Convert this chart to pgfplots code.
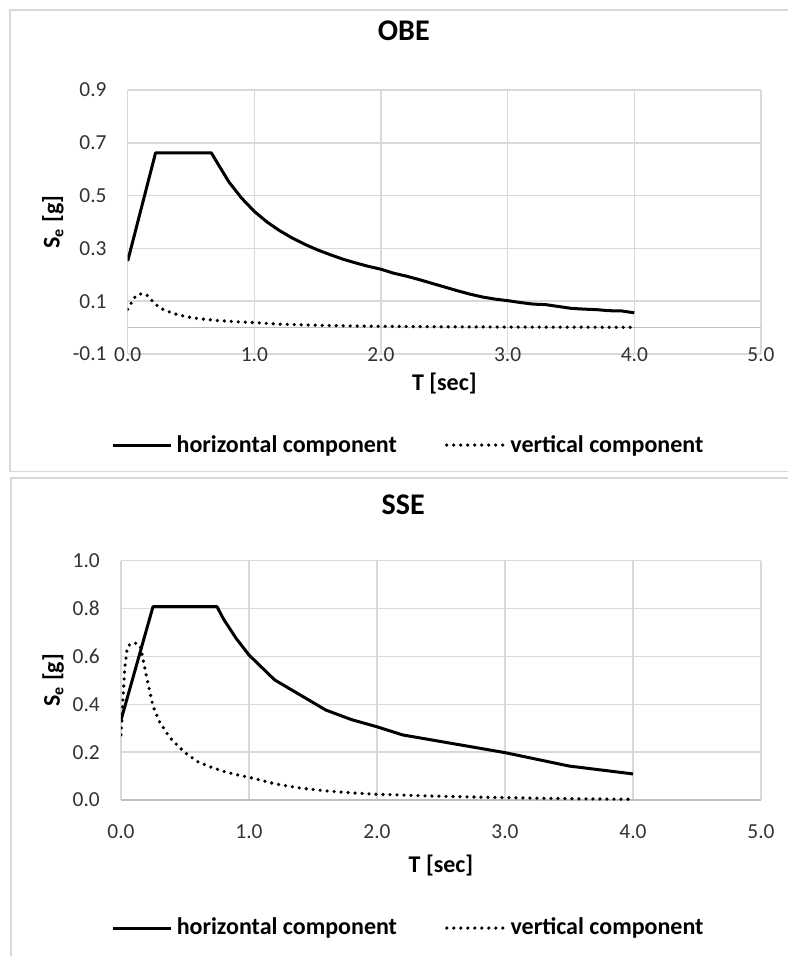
\documentclass[border=0pt]{standalone}
\usepackage{pgfplots}
\pgfplotsset{compat=1.18}
\usepackage{fontspec}
\setmainfont{Carlito}
\definecolor{gridgray}{RGB}{217,217,217}
\definecolor{axisgray}{RGB}{191,191,191}
\definecolor{ticktext}{RGB}{50,50,50}
\pgfplotsset{
  myaxis/.style={
    scale only axis,
    anchor=south west,
    xmin=0, xmax=5, xtick={0,1,2,3,4,5},
    grid=major,
    major grid style={gridgray, line width=0.75pt},
    axis line style={draw=none},
    major tick length=0pt,
    tick style={draw=none},
    tick label style={font=\fontsize{10.7}{12}\selectfont, text=ticktext,
      /pgf/number format/fixed, /pgf/number format/fixed zerofill,
      /pgf/number format/precision=1, /pgf/number format/assume math mode=true},
    yticklabel style={anchor=east, inner sep=0pt, xshift=-10.4pt},
    xticklabel style={anchor=center, inner sep=0pt},
    title style={anchor=center, font=\bfseries\fontsize{15}{18}\selectfont},
    label style={font=\bfseries\fontsize{12}{14}\selectfont},
    xlabel={T [sec]},
    ylabel={S\textsubscript{e} [g]},
    legend columns=2,
    legend style={draw=none, fill=none, anchor=center, inner sep=0pt,
      font=\bfseries\fontsize{12}{14}\selectfont,
      /tikz/every even column/.append style={column sep=22pt}},
    legend cell align=left,
    legend image code/.code={\draw[##1] (0pt,0pt) -- (29pt,0pt);},
    extra y ticks={0}, extra y tick labels={},
    extra y tick style={grid=major, major grid style={axisgray, line width=0.75pt}},
  },
  hcomp/.style={black, line width=1.5pt, line join=round, no markers},
  vcomp/.style={black, line width=1.8pt, line cap=round, dash pattern=on 0pt off 3.5pt, no markers},
}
\begin{document}
\begin{tikzpicture}
\path[use as bounding box] (0pt,0pt) rectangle (393.5pt,-478pt);
\draw[gridgray, line width=0.6pt] (400pt,-5pt) -- (5pt,-5pt) -- (5pt,-235.75pt) -- (400pt,-235.75pt);
\draw[gridgray, line width=0.6pt] (400pt,-239pt) -- (5.5pt,-239pt) -- (5.5pt,-485pt);

% ---------------- OBE ----------------
\begin{axis}[myaxis,
  at={(63.85pt,-177pt)}, width=316.65pt, height=132pt,
  ymin=-0.1, ymax=0.9, ytick={-0.1,0.1,0.3,0.5,0.7,0.9},
  xticklabel style={yshift=-0.5pt},
  title={OBE}, title style={at={(axis description cs:0.436,1.178)}},
  xlabel style={at={(axis description cs:0.5,-0.11)}, anchor=center},
  ylabel style={at={(axis description cs:-0.118,0.5)}, anchor=center},
  legend style={at={(axis description cs:0.445,-0.345)}},
]
\addplot[hcomp] coordinates {
(0.0,0.252) (0.22,0.662) (0.66,0.662) (0.7,0.630) (0.8,0.551) (0.9,0.490)
(1.0,0.440) (1.1,0.400) (1.2,0.367) (1.3,0.339) (1.4,0.315) (1.5,0.294)
(1.6,0.276) (1.7,0.259) (1.8,0.245) (1.9,0.232) (2.0,0.221) (2.1,0.206)
(2.2,0.195) (2.3,0.182) (2.4,0.168) (2.5,0.154) (2.6,0.140) (2.7,0.127)
(2.8,0.116) (2.9,0.108) (3.0,0.102) (3.1,0.095) (3.2,0.089) (3.3,0.087)
(3.4,0.080) (3.5,0.073) (3.6,0.070) (3.7,0.068) (3.8,0.064) (3.9,0.063)
(4.0,0.056)};
\addlegendentry{horizontal component}
\addplot[vcomp] coordinates {
(0.0,0.069) (0.03,0.095) (0.06,0.118) (0.09,0.127) (0.12,0.128) (0.15,0.124)
(0.2,0.098) (0.25,0.076) (0.3,0.064) (0.4,0.048) (0.5,0.038) (0.6,0.032)
(0.7,0.027) (0.8,0.024) (0.9,0.021) (1.0,0.019) (1.2,0.013) (1.4,0.010)
(1.6,0.0075) (1.8,0.006) (2.0,0.005) (2.5,0.003) (3.0,0.002) (3.5,0.0015)
(4.0,0.001)};
\addlegendentry{vertical component}
\end{axis}

% ---------------- SSE ----------------
\begin{axis}[myaxis,
  at={(60.5pt,-400pt)}, width=320pt, height=119.65pt,
  ymin=0, ymax=1.0, ytick={0,0.2,0.4,0.6,0.8,1.0},
  xticklabel style={yshift=-15.85pt},
  title={SSE}, title style={at={(axis description cs:0.441,1.184)}},
  xlabel style={at={(axis description cs:0.5,-0.272)}, anchor=center},
  ylabel style={at={(axis description cs:-0.106,0.5)}, anchor=center},
  legend style={at={(axis description cs:0.451,-0.535)}},
]
\addplot[hcomp] coordinates {
(0.0,0.334) (0.25,0.808) (0.75,0.808) (0.8,0.757) (0.9,0.675) (1.0,0.606)
(1.2,0.502) (1.6,0.376) (1.8,0.336) (2.0,0.306) (2.2,0.272) (3.0,0.198)
(3.5,0.142) (4.0,0.109)};
\addlegendentry{horizontal component}
\addplot[vcomp] coordinates {
(0.0,0.272) (0.015,0.42) (0.03,0.557) (0.05,0.640) (0.08,0.655) (0.12,0.655)
(0.15,0.645) (0.2,0.515) (0.25,0.392) (0.3,0.328) (0.357,0.280) (0.4,0.250)
(0.5,0.198) (0.6,0.160) (0.7,0.138) (0.8,0.120) (0.9,0.106) (1.0,0.095)
(1.2,0.068) (1.4,0.050) (1.6,0.038) (1.8,0.030) (2.0,0.024) (2.4,0.017)
(2.8,0.012) (3.2,0.008) (3.6,0.005) (4.0,0.003)};
\addlegendentry{vertical component}
\end{axis}
\end{tikzpicture}
\end{document}
